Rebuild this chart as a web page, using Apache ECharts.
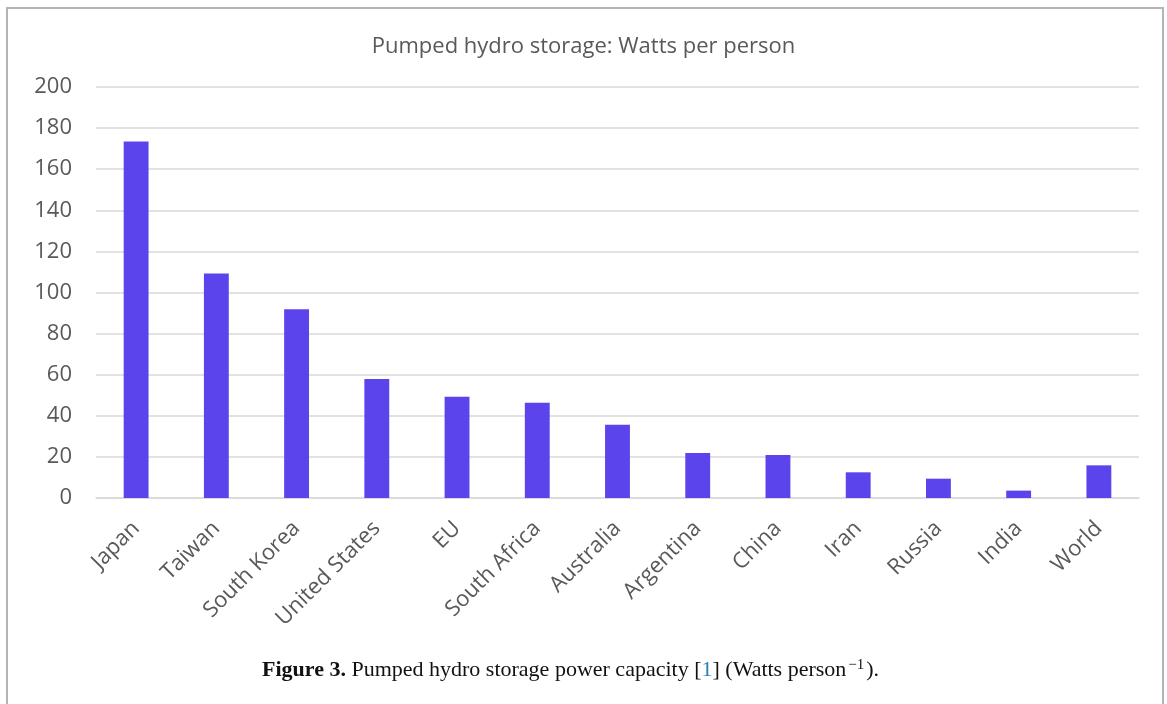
<!DOCTYPE html>
<html><head><meta charset="utf-8">
<script src="https://cdn.jsdelivr.net/npm/echarts@6/dist/echarts.min.js"></script>
<style>html,body{margin:0;padding:0;background:#fff}#c{width:1167px;height:704px}</style>
</head><body><div id="c"></div>
<script>
const categories = ['Japan','Taiwan','South Korea','United States','EU','South Africa','Australia','Argentina','China','Iran','Russia','India','World'];
const wattsPerPerson = [173.5, 109.3, 91.8, 57.9, 49.3, 46.4, 35.7, 21.9, 20.9, 12.5, 9.4, 3.6, 15.9];
const yTicks = [0, 20, 40, 60, 80, 100, 120, 140, 160, 180, 200];
const titleText = 'Pumped hydro storage: Watts per person';

const chart = echarts.init(document.getElementById('c'));
chart.setOption({
  backgroundColor: '#fff',
  animation: false,
  title: {
    text: titleText, left: 'center', top: 31,
    textStyle: {fontFamily: 'Open Sans', fontSize: 22, fontWeight: 'normal', color: '#595959'}
  },
  grid: {left: 96, right: 28, top: 87, bottom: 206, containLabel: false},
  xAxis: {
    type: 'category', data: categories,
    axisLine: {show: true, lineStyle: {color: '#d9d9d9', width: 1.5}},
    axisTick: {show: false},
    axisLabel: {rotate: 45, interval: 0, margin: 27, fontFamily: 'Open Sans', fontSize: 22, color: '#595959'}
  },
  yAxis: {
    type: 'value', min: yTicks[0], max: yTicks[yTicks.length-1], interval: 20,
    axisLine: {show: false}, axisTick: {show: false},
    axisLabel: {margin: 24, fontFamily: 'Open Sans', fontSize: 22, color: '#595959'},
    splitLine: {lineStyle: {color: '#d9d9d9', width: 1.5}}
  },
  series: [{
    type: 'bar', data: wattsPerPerson, barWidth: '31%',
    itemStyle: {color: '#5b44eb'}
  }],
  graphic: [
    {type: 'rect', shape: {x: 7, y: 8, width: 1156, height: 720}, style: {fill: 'none', stroke: '#b4b4b4', lineWidth: 2}, silent: true},
    {type: 'text', left: 262, top: 658,
     style: {
       text: '{b|Figure 3.} Pumped hydro storage power capacity [{l|1}] (Watts person{s|−1}).',
       fontFamily: 'Liberation Serif', fontSize: 22, fill: '#111',
       rich: {
         b: {fontFamily: 'Liberation Serif', fontSize: 22, fontWeight: 'bold', fill: '#111'},
         l: {fontFamily: 'Liberation Serif', fontSize: 22, fill: '#2a7fb8'},
         s: {fontFamily: 'Liberation Serif', fontSize: 15, fill: '#111', verticalAlign: 'top', padding: [0,2,10,2]}
       }
     }}
  ]
});
</script></body></html>
